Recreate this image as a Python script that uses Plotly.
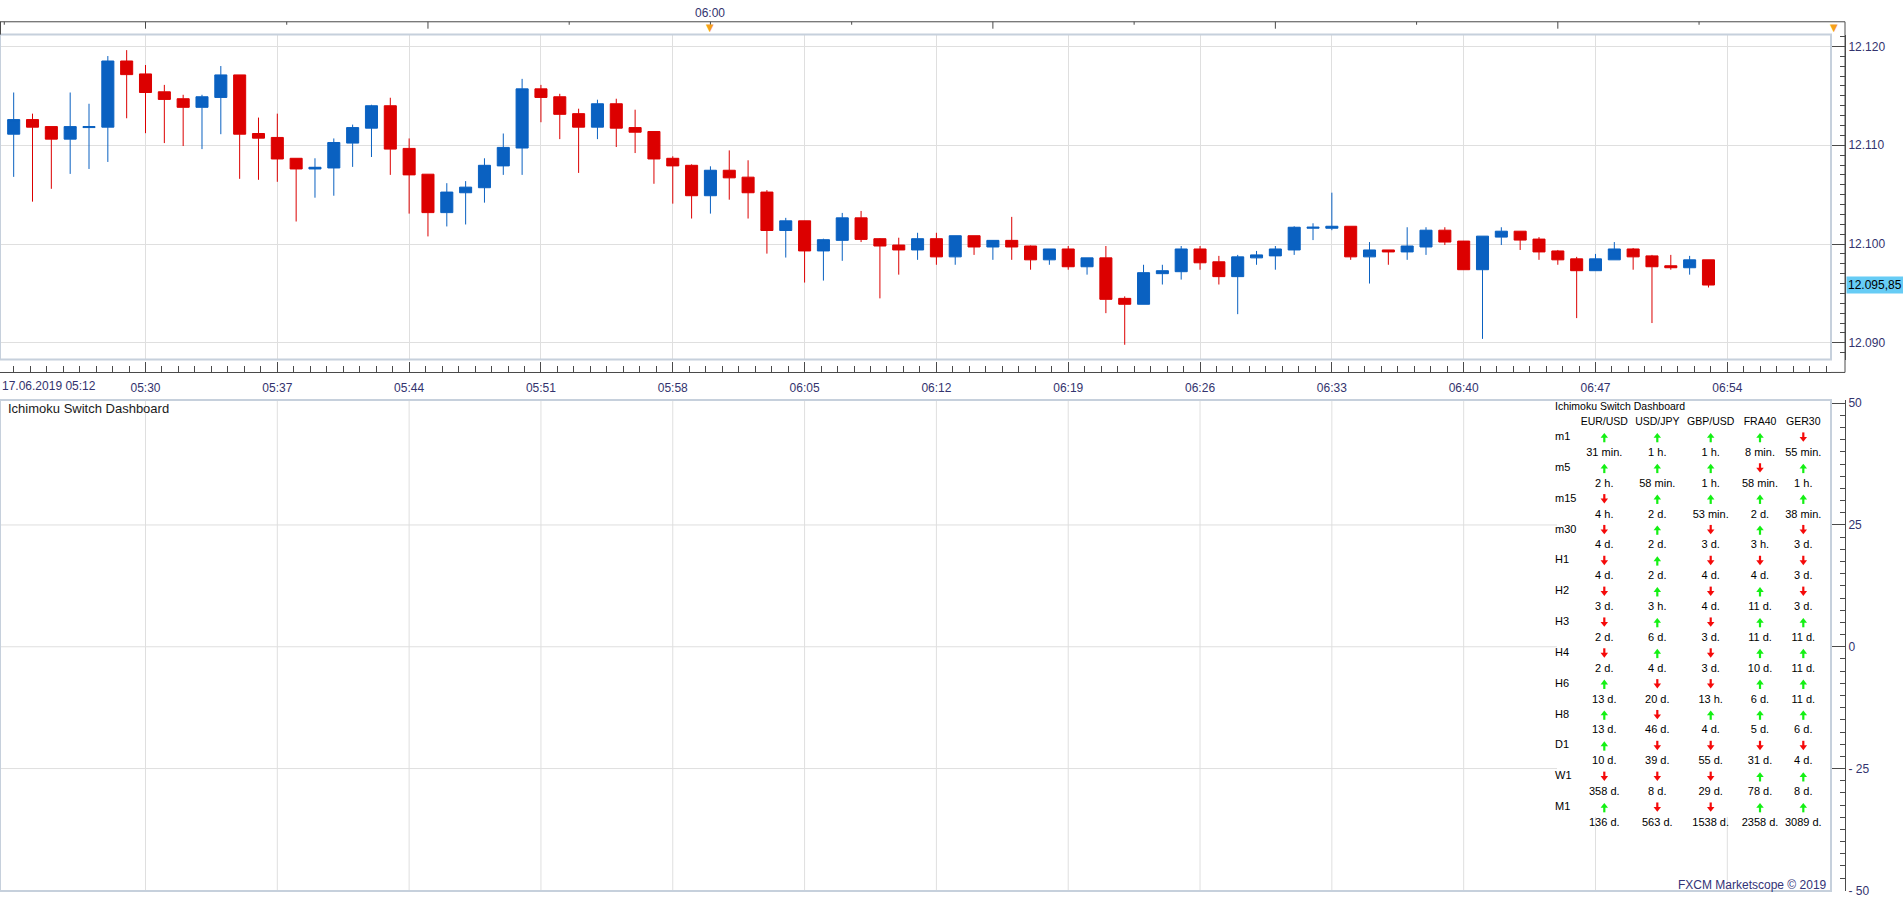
import pandas as pd
import plotly.graph_objects as go

# ---------------- data ----------------
TIMES = pd.date_range("2019-06-17 05:23", periods=91, freq="min")

OPEN = [12.11112, 12.11260, 12.11189, 12.11062, 12.11179, 12.11183, 12.11853, 12.11722, 12.11541, 12.11471,
        12.11384, 12.11484, 12.11712, 12.11119, 12.11079, 12.10868, 12.10760, 12.10770, 12.11022, 12.11173,
        12.11400, 12.10968, 12.10707, 12.10318, 12.10519, 12.10570, 12.10791, 12.10972, 12.11571, 12.11491,
        12.11320, 12.11183, 12.11420, 12.11179, 12.11139, 12.10868, 12.10797, 12.10489, 12.10747, 12.10677,
        12.10526, 12.10137, 12.10235, 12.09930, 12.10037, 12.10265, 12.10054, 12.09990, 12.09940, 12.10054,
        12.09870, 12.10084, 12.09970, 12.10037, 12.09980, 12.09840, 12.09950, 12.09770, 12.09860, 12.09450,
        12.09390, 12.09700, 12.09720, 12.09950, 12.09820, 12.09670, 12.09860, 12.09880, 12.09940, 12.10160,
        12.10160, 12.10180, 12.09870, 12.09940, 12.09920, 12.09970, 12.10140, 12.10030, 12.09740, 12.10070,
        12.10130, 12.10050, 12.09930, 12.09850, 12.09730, 12.09840, 12.09950, 12.09880, 12.09780, 12.09760,
        12.09840]
HIGH = [12.11534, 12.11320, 12.11189, 12.11534, 12.11420, 12.11903, 12.11963, 12.11812, 12.11611, 12.11511,
        12.11511, 12.11802, 12.11712, 12.11280, 12.11320, 12.10868, 12.10868, 12.11069, 12.11209, 12.11410,
        12.11481, 12.11069, 12.10707, 12.10616, 12.10637, 12.10868, 12.11119, 12.11672, 12.11611, 12.11521,
        12.11370, 12.11461, 12.11471, 12.11360, 12.11139, 12.10888, 12.10807, 12.10787, 12.10948, 12.10848,
        12.10546, 12.10265, 12.10235, 12.10054, 12.10315, 12.10335, 12.10060, 12.10064, 12.10114, 12.10114,
        12.10084, 12.10084, 12.10040, 12.10275, 12.09985, 12.09950, 12.09980, 12.09860, 12.09980, 12.09470,
        12.09790, 12.09790, 12.09980, 12.09980, 12.09880, 12.09890, 12.09930, 12.09980, 12.10180, 12.10210,
        12.10520, 12.10180, 12.10020, 12.09940, 12.10170, 12.10170, 12.10170, 12.10030, 12.10080, 12.10170,
        12.10130, 12.10070, 12.09940, 12.09870, 12.09900, 12.10020, 12.09960, 12.09890, 12.09890, 12.09880,
        12.09840]
LOW = [12.10680, 12.10429, 12.10559, 12.10710, 12.10760, 12.10831, 12.11273, 12.11122, 12.11022, 12.10992,
       12.10961, 12.11112, 12.10660, 12.10650, 12.10630, 12.10228, 12.10469, 12.10489, 12.10781, 12.10881,
       12.10700, 12.10308, 12.10077, 12.10178, 12.10198, 12.10419, 12.10700, 12.10700, 12.11233, 12.11062,
       12.10720, 12.11062, 12.10982, 12.10921, 12.10610, 12.10409, 12.10258, 12.10308, 12.10449, 12.10258,
       12.09903, 12.09863, 12.09610, 12.09630, 12.09830, 12.10020, 12.09450, 12.09690, 12.09840, 12.09790,
       12.09790, 12.09890, 12.09840, 12.09840, 12.09740, 12.09790, 12.09740, 12.09690, 12.09300, 12.08980,
       12.09390, 12.09590, 12.09640, 12.09740, 12.09590, 12.09290, 12.09790, 12.09740, 12.09890, 12.10040,
       12.10140, 12.09840, 12.09600, 12.09790, 12.09840, 12.09890, 12.09990, 12.09740, 12.09040, 12.09990,
       12.09940, 12.09840, 12.09790, 12.09250, 12.09730, 12.09840, 12.09740, 12.09200, 12.09740, 12.09690,
       12.09560]
CLOSE = [12.11260, 12.11183, 12.11062, 12.11189, 12.11189, 12.11853, 12.11715, 12.11534, 12.11464, 12.11384,
         12.11491, 12.11712, 12.11112, 12.11072, 12.10861, 12.10760, 12.10777, 12.11028, 12.11179, 12.11400,
         12.10961, 12.10700, 12.10318, 12.10526, 12.10576, 12.10797, 12.10978, 12.11571, 12.11484, 12.11313,
         12.11183, 12.11420, 12.11173, 12.11132, 12.10861, 12.10791, 12.10489, 12.10747, 12.10670, 12.10519,
         12.10137, 12.10235, 12.09930, 12.10044, 12.10265, 12.10047, 12.09980, 12.09940, 12.10054, 12.09870,
         12.10084, 12.09970, 12.10037, 12.09970, 12.09840, 12.09950, 12.09770, 12.09860, 12.09440, 12.09390,
         12.09710, 12.09730, 12.09950, 12.09810, 12.09670, 12.09870, 12.09890, 12.09950, 12.10170, 12.10170,
         12.10180, 12.09870, 12.09940, 12.09920, 12.09980, 12.10140, 12.10020, 12.09740, 12.10080, 12.10130,
         12.10040, 12.09920, 12.09840, 12.09730, 12.09850, 12.09950, 12.09870, 12.09770, 12.09760, 12.09840,
         12.09585]

LAST_PRICE_TEXT = "12.095,85"
TIME_TICK_LABELS = ["05:30", "05:37", "05:44", "05:51", "05:58", "06:05", "06:12",
                    "06:19", "06:26", "06:33", "06:40", "06:47", "06:54"]
DATE_LABEL = "17.06.2019 05:12"
TOP_LABEL = "06:00"
OSC_TICKS = [50, 25, 0, -25, -50]
OSC_TICK_TEXT = ["50", "25", "0", "- 25", "- 50"]
OSC_GRID = [25, 0, -25]

PANEL_TITLE = "Ichimoku Switch Dashboard"
PAIRS = ["EUR/USD", "USD/JPY", "GBP/USD", "FRA40", "GER30"]
TFRAMES = ["m1", "m5", "m15", "m30", "H1", "H2", "H3", "H4", "H6", "H8", "D1", "W1", "M1"]
DIRS = [
    ["U", "U", "U", "U", "D"],
    ["U", "U", "U", "D", "U"],
    ["D", "U", "U", "U", "U"],
    ["D", "U", "D", "U", "D"],
    ["D", "U", "D", "D", "D"],
    ["D", "U", "D", "U", "D"],
    ["D", "U", "D", "U", "U"],
    ["D", "U", "D", "U", "U"],
    ["U", "D", "D", "U", "U"],
    ["U", "D", "U", "U", "U"],
    ["U", "D", "D", "D", "D"],
    ["D", "D", "D", "U", "U"],
    ["U", "D", "D", "U", "U"],
]
DURS = [
    ["31 min.", "1 h.", "1 h.", "8 min.", "55 min."],
    ["2 h.", "58 min.", "1 h.", "58 min.", "1 h."],
    ["4 h.", "2 d.", "53 min.", "2 d.", "38 min."],
    ["4 d.", "2 d.", "3 d.", "3 h.", "3 d."],
    ["4 d.", "2 d.", "4 d.", "4 d.", "3 d."],
    ["3 d.", "3 h.", "4 d.", "11 d.", "3 d."],
    ["2 d.", "6 d.", "3 d.", "11 d.", "11 d."],
    ["2 d.", "4 d.", "3 d.", "10 d.", "11 d."],
    ["13 d.", "20 d.", "13 h.", "6 d.", "11 d."],
    ["13 d.", "46 d.", "4 d.", "5 d.", "6 d."],
    ["10 d.", "39 d.", "55 d.", "31 d.", "4 d."],
    ["358 d.", "8 d.", "29 d.", "78 d.", "8 d."],
    ["136 d.", "563 d.", "1538 d.", "2358 d.", "3089 d."],
]
FOOTER = "FXCM Marketscope \u00a9 2019"

# ---------------- layout constants ----------------
W, H = 1903, 900
PLOT_R = 1831
AXIS_X = 1845
TABLE_L = 1557
TABLE_B = 823
TABLE_AXIS_B = 850
PX_PER_MIN = 18.831
REF_T = pd.Timestamp("2019-06-17 05:30")
X_LEFT = (REF_T - pd.Timedelta(minutes=145.5 / PX_PER_MIN)).round("ms")
X_RIGHT = (REF_T + pd.Timedelta(minutes=(PLOT_R - 145.5) / PX_PER_MIN)).round("ms")
T_TABLE = REF_T + pd.Timedelta(minutes=(TABLE_L - 145.5) / PX_PER_MIN)
TICK_TIMES = pd.date_range("2019-06-17 05:30", periods=len(TIME_TICK_LABELS), freq="7min")

FONT = "Liberation Sans, Arial, sans-serif"
AX_TXT = "#33336e"
GRID = "#dfdfdf"
BORDER = "#c6d0dc"
AXLINE = "#4a4a4a"
BLUE = "#0a61c1"
RED = "#dc0000"
UPC = "#14f014"
DNC = "#f50a0a"


def px(x):
    return x / W


def py(y):
    return 1 - y / H


fig = go.Figure()

fig.add_trace(go.Candlestick(
    x=TIMES, open=OPEN, high=HIGH, low=LOW, close=CLOSE,
    increasing=dict(line=dict(color=BLUE, width=1), fillcolor=BLUE),
    decreasing=dict(line=dict(color=RED, width=1), fillcolor=RED),
    whiskerwidth=0, showlegend=False, hoverinfo="skip",
    xaxis="x", yaxis="y"))

# ---- dashboard table (x3/y3: pixel offsets inside the table box) ----
COL_CX = [47.3, 100.3, 153.7, 203.0, 246.3]
ROW_Y0, ROW_DY, DUR_DY = 37.7, 31.22, 16.0
tfont = dict(family=FONT, size=10.5, color="#000000")
dfont = dict(family=FONT, size=11, color="#000000")
common = dict(xaxis="x3", yaxis="y3", showlegend=False, hoverinfo="skip", cliponaxis=False)

fig.add_trace(go.Scatter(x=[-2], y=[7.7], text=[PANEL_TITLE], mode="text",
                         textposition="middle right", textfont=tfont, **common))
fig.add_trace(go.Scatter(x=COL_CX, y=[22.7] * len(PAIRS), text=PAIRS, mode="text",
                         textposition="middle center", textfont=tfont, **common))
fig.add_trace(go.Scatter(x=[-2] * len(TFRAMES), y=[ROW_Y0 + i * ROW_DY for i in range(len(TFRAMES))],
                         text=TFRAMES, mode="text", textposition="middle right", textfont=dfont, **common))
for d, col in (("U", UPC), ("D", DNC)):
    xs, ys = [], []
    for i, row in enumerate(DIRS):
        for j, v in enumerate(row):
            if v == d:
                xs.append(COL_CX[j])
                ys.append(ROW_Y0 + i * ROW_DY)
    sgn = -1 if d == "U" else 1
    # arrow head
    fig.add_trace(go.Scatter(x=xs, y=[y + sgn * 1.2 for y in ys], mode="markers",
                             marker=dict(symbol="triangle-up" if d == "U" else "triangle-down",
                                         size=6.5, color=col, line=dict(width=0)), **common))
    # arrow stem
    fig.add_trace(go.Scatter(x=xs, y=[y - sgn * 1.8 for y in ys], mode="markers",
                             marker=dict(symbol="line-ns", size=4.5, color=col,
                                         line=dict(width=2.2, color=col)), **common))
dx, dy, dt = [], [], []
for i, row in enumerate(DURS):
    for j, v in enumerate(row):
        dx.append(COL_CX[j])
        dy.append(ROW_Y0 + i * ROW_DY + DUR_DY)
        dt.append(v)
fig.add_trace(go.Scatter(x=dx, y=dy, text=dt, mode="text", textposition="middle center",
                         textfont=dfont, **common))

# ---------------- axes ----------------
fig.update_layout(
    width=W, height=H, margin=dict(l=0, r=0, t=0, b=0),
    paper_bgcolor="white", plot_bgcolor="rgba(0,0,0,0)", showlegend=False,
    boxgap=0.36, boxgroupgap=0,
    font=dict(family=FONT, size=12, color=AX_TXT),
    xaxis=dict(
        type="date", domain=[0, px(PLOT_R)], range=[X_LEFT, X_RIGHT],
        anchor="free", position=py(373),
        tickmode="array", tickvals=TICK_TIMES, ticktext=TIME_TICK_LABELS,
        ticks="inside", ticklen=10, tickcolor=AXLINE, tickwidth=1, ticklabelstandoff=4,
        showline=True, linecolor=AXLINE, linewidth=1,
        showgrid=True, gridcolor=GRID, gridwidth=1, zeroline=False,
        tickfont=dict(family=FONT, size=12, color=AX_TXT),
        minor=dict(tickmode="linear", tick0="2019-06-17 05:30", dtick=52500,
                   ticks="inside", ticklen=6, tickcolor=AXLINE, showgrid=False),
        rangeslider=dict(visible=False), fixedrange=True,
    ),
    yaxis=dict(
        domain=[py(360), py(31)], range=[12.0883, 12.1212],
        anchor="free", position=px(AXIS_X), side="right",
        tickmode="linear", tick0=12.09, dtick=0.01, tickformat=".3f",
        ticks="inside", ticklen=14, tickcolor=AXLINE,
        showline=True, linecolor=AXLINE, showgrid=True, gridcolor=GRID, zeroline=False,
        tickfont=dict(family=FONT, size=12, color=AX_TXT), ticklabeloverflow="allow",
        minor=dict(tickmode="linear", tick0=12.09, dtick=0.001, ticks="inside",
                   ticklen=5, tickcolor=AXLINE, showgrid=False),
        fixedrange=True,
    ),
    xaxis2=dict(
        type="date", domain=[0, px(PLOT_R)], range=[X_LEFT, X_RIGHT], anchor="y2",
        showticklabels=False, ticks="", showgrid=False, zeroline=False, showline=False,
        fixedrange=True,
    ),
    yaxis2=dict(
        domain=[py(898), py(401)], range=[-50.14, 50.63],
        anchor="free", position=px(AXIS_X), side="right",
        tickmode="array", tickvals=OSC_TICKS, ticktext=OSC_TICK_TEXT,
        ticks="inside", ticklen=14, tickcolor=AXLINE,
        showline=True, linecolor=AXLINE, showgrid=False, zeroline=False,
        tickfont=dict(family=FONT, size=12, color=AX_TXT), ticklabeloverflow="allow",
        minor=dict(tickmode="linear", tick0=0, dtick=2.5, ticks="inside",
                   ticklen=5, tickcolor=AXLINE, showgrid=False),
        fixedrange=True,
    ),
    xaxis3=dict(domain=[px(TABLE_L - 10), px(PLOT_R)], range=[-10, PLOT_R - TABLE_L],
                anchor="y3", visible=False, fixedrange=True),
    yaxis3=dict(domain=[py(TABLE_AXIS_B), py(401)], range=[TABLE_AXIS_B - 401, 0], anchor="x3",
                visible=False, fixedrange=True),
)
# empty lower panel subplot
fig.add_trace(go.Scatter(x=[TIMES[0]], y=[None], xaxis="x2", yaxis="y2", showlegend=False,
                         hoverinfo="skip", mode="lines"))

shapes = []
# lower panel gridlines (interrupted by the dashboard box)
for t in TICK_TIMES:
    top = TABLE_B if t > T_TABLE else 401
    shapes.append(dict(type="line", xref="x2", yref="paper", x0=t, x1=t, y0=py(898), y1=py(top),
                       line=dict(color=GRID, width=1), layer="below"))
for v in OSC_GRID:
    shapes.append(dict(type="line", xref="paper", yref="y2", x0=0, x1=px(TABLE_L), y0=v, y1=v,
                       line=dict(color=GRID, width=1), layer="below"))
# panel borders
for y0, y1 in ((31, 360), (401, 898)):
    shapes.append(dict(type="rect", xref="paper", yref="paper", x0=0, x1=px(PLOT_R),
                       y0=py(y1), y1=py(y0), line=dict(color=BORDER, width=2), layer="above"))
# top time strip
shapes.append(dict(type="line", xref="paper", yref="paper", x0=0, x1=px(AXIS_X),
                   y0=py(18), y1=py(18), line=dict(color=AXLINE, width=1)))
shapes.append(dict(type="line", xref="paper", yref="paper", x0=px(0.5), x1=px(0.5),
                   y0=py(18), y1=py(31), line=dict(color=AXLINE, width=1)))
shapes.append(dict(type="line", xref="paper", yref="paper", x0=px(AXIS_X), x1=px(AXIS_X),
                   y0=py(18), y1=py(373), line=dict(color=AXLINE, width=1)))
shapes.append(dict(type="line", xref="paper", yref="paper", x0=px(PLOT_R), x1=px(AXIS_X),
                   y0=py(373), y1=py(373), line=dict(color=AXLINE, width=1)))
for t in pd.date_range("2019-06-17 05:22:30", "2019-06-17 06:52:30", freq="450s"):
    long_tick = t.minute % 15 == 0 and t.second == 0
    shapes.append(dict(type="line", xref="x", yref="paper", x0=t, x1=t,
                       y0=py(18), y1=py(25 if long_tick else 21),
                       line=dict(color=AXLINE, width=1)))
fig.update_layout(shapes=shapes)

ann = [
    dict(xref="x", yref="paper", x="2019-06-17 06:00", y=py(9), text=TOP_LABEL,
         font=dict(family=FONT, size=12, color=AX_TXT)),
    dict(xref="x", yref="paper", x="2019-06-17 06:00", y=py(24), text="\u25bc",
         font=dict(family="DejaVu Sans", size=10, color="#f5a01a")),
    dict(xref="paper", yref="paper", x=px(1840), y=py(24), text="\u25bc",
         font=dict(family="DejaVu Sans", size=10, color="#f5a01a")),
    dict(xref="paper", yref="paper", x=0, y=py(387), xanchor="left", text=DATE_LABEL,
         font=dict(family=FONT, size=12, color=AX_TXT)),
    dict(xref="paper", yref="y", x=px(AXIS_X + 1), y=CLOSE[-1], xanchor="left", text=LAST_PRICE_TEXT,
         bgcolor="#66ccf5", borderpad=1, font=dict(family=FONT, size=12, color="#000000")),
    dict(xref="paper", yref="paper", x=px(6), y=py(409), xanchor="left", text=PANEL_TITLE,
         font=dict(family=FONT, size=13, color="#1a1a1a")),
    dict(xref="paper", yref="paper", x=px(1829), y=py(892), xanchor="right", text=FOOTER,
         font=dict(family=FONT, size=12, color="#333377")),
]
for a in ann:
    a["showarrow"] = False
    a["yanchor"] = "middle"
fig.update_layout(annotations=ann)

fig.write_html("out.html", config={"displayModeBar": False})
